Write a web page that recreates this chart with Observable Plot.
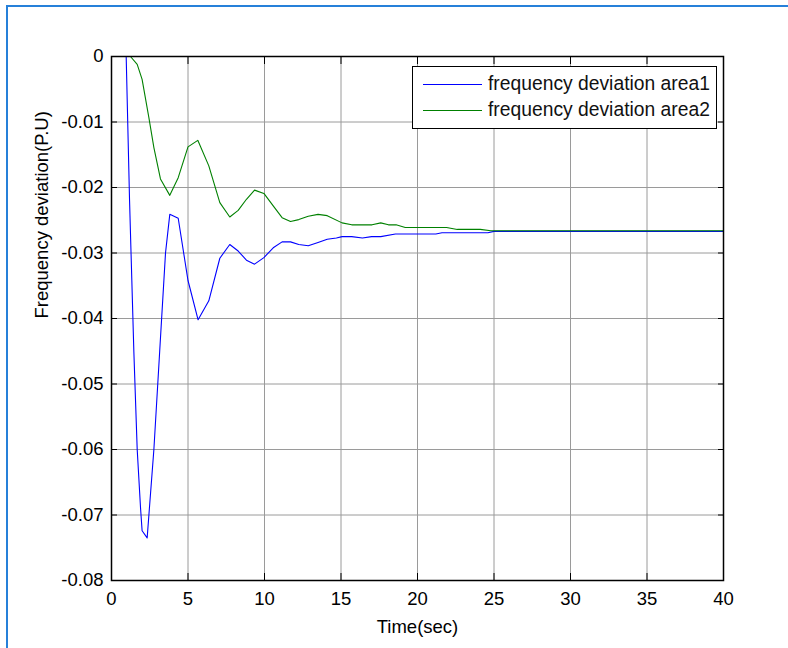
<!DOCTYPE html>
<html>
<head>
<meta charset="utf-8">
<script src="https://cdn.jsdelivr.net/npm/d3@7"></script>
<script src="https://cdn.jsdelivr.net/npm/@observablehq/plot@0.6"></script>
<style>
  html, body { margin: 0; padding: 0; background: #fff; overflow: hidden; }
  body { width: 788px; height: 648px; position: relative; font-family: "Liberation Sans", Arial, sans-serif; }
  #frame { position: absolute; left: 6px; top: 5px; width: 800px; height: 700px; border-left: 2px solid #2680d9; border-top: 2px solid #2680d9; pointer-events: none; }
  #chart { position: absolute; left: 0; top: 0; }
  #legend { position: absolute; left: 412px; top: 66px; width: 303px; height: 61px; border: 1px solid #000; background: #fff; font-size: 19.3px; color: #111; }
  .txt { position: absolute; left: 75px; line-height: 24px; white-space: nowrap; }
  .sw { position: absolute; left: 10px; width: 59px; height: 1px; }
</style>
</head>
<body>
<div id="chart"></div>
<div id="frame"></div>
<div id="legend">
  <div class="sw" style="top:17px;background:#0000ff"></div><div class="txt" style="top:5px">frequency deviation area1</div>
  <div class="sw" style="top:43px;background:#008000"></div><div class="txt" style="top:31px">frequency deviation area2</div>
</div>
<script>
// Series data
const t1 = [0, 0.96, 1.18, 1.46, 1.68, 1.9, 2.0, 2.33, 2.77, 3.15, 3.53, 3.81, 4.36, 5.0, 5.66, 6.36, 7.08, 7.73, 8.28, 8.82, 9.35, 9.96, 10.57, 11.15, 11.7, 12.24, 12.86, 13.5, 14.1, 14.7, 15.07, 15.7, 16.4, 17.0, 17.6, 18.56, 21.2, 21.6, 24.6, 25.0, 40];
const v1 = [0, 0, -0.022, -0.045, -0.060, -0.069, -0.0724, -0.0735, -0.060, -0.045, -0.030, -0.0241, -0.0247, -0.0342, -0.0402, -0.0373, -0.0308, -0.0287, -0.0297, -0.0311, -0.0317, -0.0307, -0.0292, -0.0283, -0.0283, -0.0287, -0.0289, -0.0284, -0.0279, -0.0277, -0.0275, -0.0275, -0.0277, -0.0275, -0.0275, -0.0271, -0.0271, -0.0269, -0.0269, -0.0267, -0.0267];
const t2 = [0, 1.24, 1.68, 2.0, 2.44, 2.77, 3.2, 3.81, 4.36, 5.0, 5.64, 6.36, 7.08, 7.73, 8.28, 8.82, 9.35, 9.96, 10.57, 11.15, 11.7, 12.24, 12.86, 13.5, 14.1, 15.07, 15.7, 17.03, 17.6, 18.1, 18.6, 19.2, 21.9, 22.6, 24.1, 24.8, 40];
const v2 = [0, 0, -0.0012, -0.0035, -0.0093, -0.0139, -0.0187, -0.0212, -0.0185, -0.0138, -0.0128, -0.0167, -0.0223, -0.0245, -0.0235, -0.0218, -0.0204, -0.0209, -0.0228, -0.0246, -0.0252, -0.0249, -0.0244, -0.0241, -0.0243, -0.0254, -0.0257, -0.0257, -0.0254, -0.0257, -0.0257, -0.0261, -0.0261, -0.0264, -0.0264, -0.0266, -0.0266];
const seriesNames = ["frequency deviation area1", "frequency deviation area2"];
const xTicks = [0, 5, 10, 15, 20, 25, 30, 35, 40];
const yTicks = [0, -0.01, -0.02, -0.03, -0.04, -0.05, -0.06, -0.07, -0.08];
const xLabel = "Time(sec)";
const yLabel = "Frequency deviation(P.U)";

const s1 = t1.map((t, i) => ({t, v: v1[i]}));
const s2 = t2.map((t, i) => ({t, v: v2[i]}));
const fmt = d => d === 0 ? "0" : String(d);

const chart = Plot.plot({
  width: 788,
  height: 648,
  marginLeft: 111,
  marginRight: 65,
  marginTop: 56,
  marginBottom: 68,
  style: {fontFamily: "'Liberation Sans', Arial, sans-serif", fontSize: "18px", color: "#000", background: "transparent"},
  x: {domain: [0, 40]},
  y: {domain: [-0.08, 0]},
  marks: [
    Plot.gridX(xTicks, {stroke: "#9a9a9a", strokeOpacity: 1, strokeWidth: 1}),
    Plot.gridY(yTicks, {stroke: "#9a9a9a", strokeOpacity: 1, strokeWidth: 1}),
    Plot.line(s1, {x: "t", y: "v", stroke: "#0000ff", strokeWidth: 1.1}),
    Plot.line(s2, {x: "t", y: "v", stroke: "#008000", strokeWidth: 1.1}),
    Plot.axisX({ticks: xTicks, anchor: "bottom", tickSize: 0, tickPadding: 11, tickFormat: fmt, label: null, fontSize: 18.5}),
    Plot.axisY({ticks: yTicks, anchor: "left", tickSize: 0, tickPadding: 8, tickFormat: fmt, label: null, fontSize: 18.5}),
    Plot.axisX({ticks: xTicks, anchor: "bottom", tickSize: -7, tickFormat: () => "", label: null}),
    Plot.axisX({ticks: xTicks, anchor: "top", tickSize: -7, tickFormat: () => "", label: null}),
    Plot.axisY({ticks: yTicks, anchor: "left", tickSize: -6, tickFormat: () => "", label: null}),
    Plot.axisY({ticks: yTicks, anchor: "right", tickSize: -6, tickFormat: () => "", label: null}),
    Plot.frame({stroke: "#000", strokeWidth: 1.5}),
    Plot.text([xLabel], {frameAnchor: "bottom", dy: 52, fontSize: 18.5, fill: "#000"}),
    Plot.text([yLabel], {frameAnchor: "left", dx: -69, rotate: -90, fontSize: 18.5, fill: "#000"})
  ]
});
document.getElementById("chart").appendChild(chart);
</script>
</body>
</html>
